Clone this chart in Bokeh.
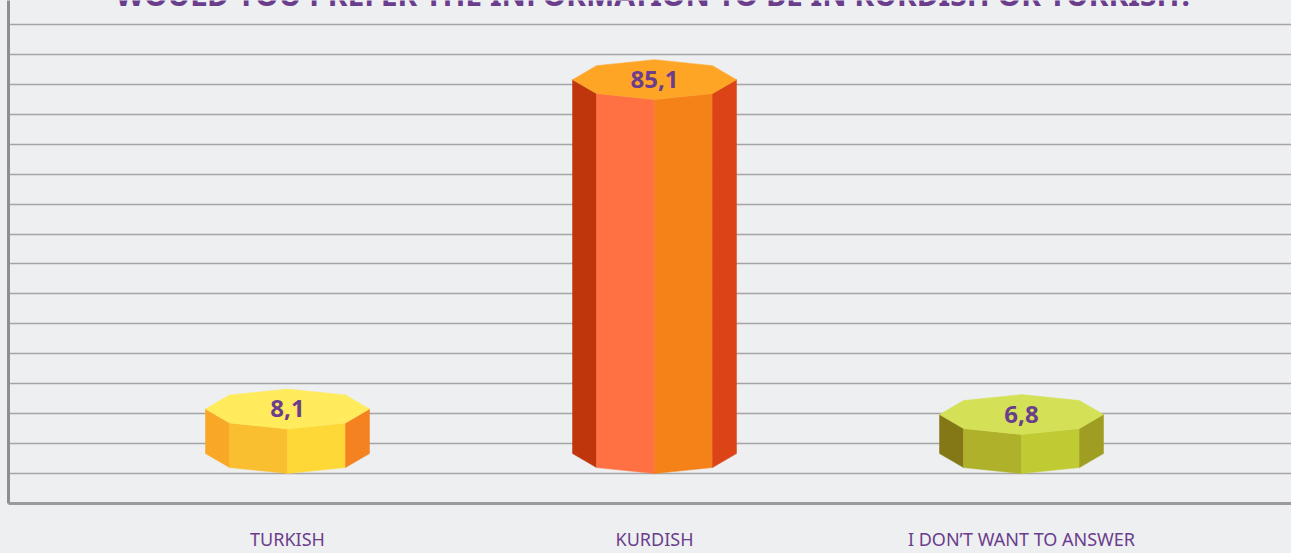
from bokeh.plotting import figure
from bokeh.models import ColumnDataSource, Range1d, FixedTicker, Label
from bokeh.core.properties import value
from bokeh.embed import file_html
from bokeh.resources import INLINE

# ---- data ----
categories = ["TURKISH", "KURDISH", "I DON’T WANT TO ANSWER"]
values = [8.1, 85.1, 6.8]
value_labels = ["8,1", "85,1", "6,8"]
title_text = "WOULD YOU PREFER THE INFORMATION TO BE IN KURDISH OR TURKISH?"
grid_ticks = [-7, 0, 7, 14, 21, 28, 35, 42, 49, 56, 63, 70, 77, 84, 91, 98]

# face colours per bar: left side, front-left, front-right, right side, top
bar_colors = [
    ["#f9a727", "#f9bf30", "#fed837", "#f58220", "#ffeb5c"],
    ["#bf360c", "#ff7043", "#f58119", "#dc4418", "#ffa526"],
    ["#847816", "#afb12b", "#c0cb33", "#9f9d22", "#d4e157"],
]

BG = "#eeeff1"
PURPLE = "#6a3d8d"

W, H = 1291, 553
FRAME_LEFT, FRAME_BOTTOM = 8, 504

# ---- scales ----
PX_PER_UNIT = 30 / 7
Y_START = -(FRAME_BOTTOM - 444) / PX_PER_UNIT
Y_END = Y_START + FRAME_BOTTOM / PX_PER_UNIT
X_PX = 367.0
X_START = 1 - (654 - FRAME_LEFT) / X_PX
X_END = 1 + (W - 654) / X_PX

# octagonal prism shape (data units)
W2 = 82 / X_PX
W1 = 58 / X_PX
DY1 = 14 / PX_PER_UNIT
DY2 = 20 / PX_PER_UNIT
BASE = -10 / PX_PER_UNIT

xs, ys, cols = [], [], []
for i, v in enumerate(values):
    c = float(i)
    t, b = v, BASE
    faces = [
        ([c - W2, c - W1, c - W1, c - W2], [t, t - DY1, b - DY1, b]),
        ([c - W1, c, c, c - W1], [t - DY1, t - DY2, b - DY2, b - DY1]),
        ([c, c + W1, c + W1, c], [t - DY2, t - DY1, b - DY1, b - DY2]),
        ([c + W1, c + W2, c + W2, c + W1], [t - DY1, t, b, b - DY1]),
        ([c - W2, c - W1, c, c + W1, c + W2, c + W1, c, c - W1],
         [t, t + DY1, t + DY2, t + DY1, t, t - DY1, t - DY2, t - DY1]),
    ]
    for (fx, fy), col in zip(faces, bar_colors[i]):
        xs.append(fx)
        ys.append(fy)
        cols.append(col)

p = figure(width=W, height=H, output_backend="svg", toolbar_location=None,
           x_range=Range1d(X_START, X_END), y_range=Range1d(Y_START, Y_END),
           min_border_left=FRAME_LEFT, min_border_right=0, min_border_top=0,
           min_border_bottom=H - FRAME_BOTTOM,
           background_fill_color=BG, border_fill_color=BG, outline_line_color=None)

p.patches(xs="xs", ys="ys", fill_color="c", line_color="c", line_width=0.5,
          source=ColumnDataSource(dict(xs=xs, ys=ys, c=cols)))

p.text(x=[0, 1, 2], y=values, text=value_labels, text_align="center", text_baseline="middle",
       text_font=value("Noto Sans"), text_font_style="bold", text_font_size="24px",
       text_color=PURPLE)

# grid
p.xgrid.visible = False
p.ygrid.ticker = FixedTicker(ticks=grid_ticks)
p.ygrid.grid_line_color = "#a5a5a5"
p.ygrid.grid_line_width = 1.5

# axes
p.yaxis.ticker = FixedTicker(ticks=[])
p.yaxis.axis_line_color = "#8e8e8e"
p.yaxis.axis_line_width = 3
p.yaxis.major_tick_line_color = None
p.yaxis.minor_tick_line_color = None
p.yaxis.major_tick_out = 0
p.yaxis.major_label_standoff = 0

p.xaxis.ticker = FixedTicker(ticks=[0, 1, 2])
p.xaxis.major_label_overrides = {0: categories[0], 1: categories[1], 2: categories[2]}
p.xaxis.axis_line_color = "#9a9a9a"
p.xaxis.axis_line_width = 3
p.xaxis.major_tick_line_color = None
p.xaxis.minor_tick_line_color = None
p.xaxis.major_tick_out = 0
p.xaxis.major_tick_in = 0
p.xaxis.major_label_standoff = 23
p.xaxis.major_label_text_font = "Noto Sans"
p.xaxis.major_label_text_font_size = "18px"
p.xaxis.major_label_text_color = PURPLE

p.add_layout(Label(x=1, y=Y_END + 6 / PX_PER_UNIT, text=title_text, text_align="center",
                   text_baseline="alphabetic", text_font="Noto Sans", text_font_style="bold",
                   text_font_size="30px", text_color=PURPLE))

html = file_html(p, INLINE)
html = html.replace("<head>", "<head><style>body{background:%s;}</style>" % BG, 1)
open("out.html", "w").write(html)
